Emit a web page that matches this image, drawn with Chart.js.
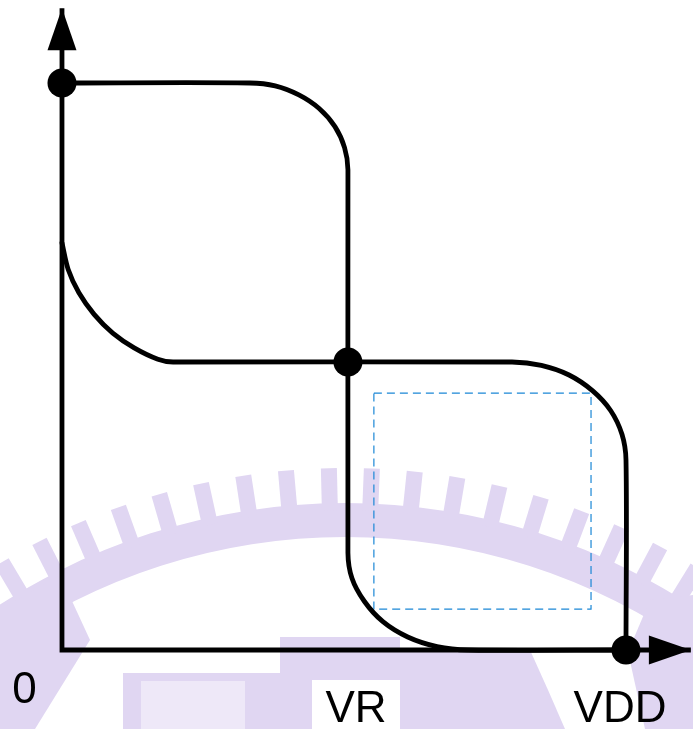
<!DOCTYPE html>
<html>
<head>
<meta charset="utf-8">
<script src="https://cdn.jsdelivr.net/npm/chart.js@4.4.1/dist/chart.umd.min.js"></script>
<style>
  html, body { margin: 0; padding: 0; background: #fff; }
  #wrap { width: 693px; height: 729px; }
</style>
</head>
<body>
<div id="wrap"><canvas id="chart" width="693" height="729"></canvas></div>
<script>
// Voltages, normalised so that VDD = 1
const VR = 0.507;
const VDD = 1.0;
const tickValues = [0, VR, VDD];
const tickLabels = ['0', 'VR', 'VDD'];

// Curve 1: high at 0, falls at VR down to the x axis
const curve1X = [0, 0.333, 0.378, 0.420, 0.456, 0.484, 0.501, 0.507, 0.507, 0.514, 0.536, 0.569, 0.613, 0.665, 0.720, 1.0];
const curve1Y = [1.0, 1.0, 0.995, 0.979, 0.955, 0.923, 0.886, 0.847, 0.171, 0.127, 0.086, 0.050, 0.023, 0.006, 0, 0];

// Curve 2: leaves the y axis, flat at VR, then falls at VDD
const curve2X = [0, 0.011, 0.030, 0.057, 0.090, 0.128, 0.170, 0.197, 0.798, 0.850, 0.899, 0.941, 0.973, 0.993, 1.0, 1.0];
const curve2Y = [0.718, 0.671, 0.630, 0.592, 0.559, 0.533, 0.513, 0.508, 0.508, 0.502, 0.485, 0.457, 0.422, 0.380, 0.335, 0];

// Crossing points
const dotX = [0, VR, VDD];
const dotY = [1.0, 0.508, 0];

// Dashed square inside the right lobe
const boxX = [0.553, 0.938, 0.938, 0.553, 0.553];
const boxY = [0.453, 0.453, 0.072, 0.072, 0.453];

// Axis lines (arrow tips are at the far ends)
const axisX = [0, 0, 1.115];
const axisY = [1.132, 0, 0];

function pts(xs, ys) {
    return xs.map((x, i) => ({ x: x, y: ys[i] }));
}

// Faint logo watermark behind the drawing
const watermark = {
    id: 'watermark',
    beforeDatasetsDraw(chart) {
        const ctx = chart.ctx;
        ctx.save();
        ctx.fillStyle = '#e0d6f2';
        const cx = 345, cy = 1140;
        const a0 = -Math.PI / 2 - 0.62, a1 = -Math.PI / 2 + 0.62;
        ctx.beginPath();
        ctx.arc(cx, cy, 637, a0, a1);
        ctx.arc(cx, cy, 603, a1, a0, true);
        ctx.closePath();
        ctx.fill();
        for (let a = -0.6; a <= 0.6; a += 0.064) {
            ctx.save();
            ctx.translate(cx, cy);
            ctx.rotate(a);
            ctx.fillRect(-8, -672, 16, 42);
            ctx.restore();
        }
        ctx.beginPath();
        ctx.moveTo(0, 610); ctx.lineTo(60, 575); ctx.lineTo(90, 640);
        ctx.lineTo(35, 729); ctx.lineTo(0, 729);
        ctx.fill();
        ctx.beginPath();
        ctx.moveTo(693, 595); ctx.lineTo(650, 600); ctx.lineTo(628, 652);
        ctx.lineTo(645, 729); ctx.lineTo(693, 729);
        ctx.fill();
        ctx.beginPath();
        ctx.moveTo(400, 650); ctx.lineTo(530, 650); ctx.lineTo(548, 690);
        ctx.lineTo(565, 729); ctx.lineTo(400, 729);
        ctx.fill();
        ctx.fillRect(280, 637, 120, 43);
        ctx.fillRect(280, 680, 32, 49);
        ctx.fillStyle = '#eee8f8';
        ctx.fillRect(123, 673, 157, 56);
        ctx.fillStyle = '#e0d6f2';
        ctx.fillRect(123, 673, 18, 56);
        ctx.fillRect(245, 673, 35, 56);
        ctx.fillRect(123, 673, 157, 8);
        ctx.restore();
    }
};

// Arrow heads and the voltage labels
const annotations = {
    id: 'annotations',
    afterDatasetsDraw(chart) {
        const ctx = chart.ctx;
        const xs = chart.scales.x, ys = chart.scales.y;
        const ox = xs.getPixelForValue(0), oy = ys.getPixelForValue(0);
        const len = 42, half = 14.5;
        ctx.save();
        ctx.fillStyle = '#000';
        // y arrow
        const ty = ys.getPixelForValue(axisY[0]);
        ctx.beginPath();
        ctx.moveTo(ox, ty);
        ctx.lineTo(ox - half, ty + len);
        ctx.lineTo(ox + half, ty + len);
        ctx.closePath();
        ctx.fill();
        // x arrow
        const tx = xs.getPixelForValue(axisX[2]);
        ctx.beginPath();
        ctx.moveTo(tx, oy);
        ctx.lineTo(tx - len, oy - half);
        ctx.lineTo(tx - len, oy + half);
        ctx.closePath();
        ctx.fill();

        ctx.font = '44px "Liberation Sans", Arial, sans-serif';
        ctx.textAlign = 'center';
        ctx.textBaseline = 'alphabetic';
        const offs = [[-37.5, 53], [8, 72], [-6, 72]];
        tickLabels.forEach((t, i) => {
            const px = xs.getPixelForValue(tickValues[i]);
            ctx.fillText(t, px + offs[i][0], oy + offs[i][1]);
        });
        ctx.restore();
    }
};

const lineStyle = {
    showLine: true,
    pointRadius: 0,
    tension: 0.3,
    fill: false,
    borderColor: '#000',
    borderWidth: 4.8,
    borderJoinStyle: 'round',
    borderCapStyle: 'round'
};

new Chart(document.getElementById('chart'), {
    type: 'scatter',
    data: {
        datasets: [
            { data: pts(dotX, dotY), pointRadius: 14.5, pointBackgroundColor: '#000', pointBorderWidth: 0, showLine: false, order: 0 },
            Object.assign({ data: pts(curve1X, curve1Y), order: 1 }, lineStyle),
            Object.assign({ data: pts(curve2X, curve2Y), order: 1 }, lineStyle),
            Object.assign({ data: pts(axisX, axisY), order: 2 }, lineStyle, { tension: 0, borderJoinStyle: 'miter', borderCapStyle: 'butt' }),
            { data: pts(boxX, boxY), showLine: true, pointRadius: 0, tension: 0, fill: false,
              borderColor: '#1b87d6', borderWidth: 1.2, borderDash: [8, 5], order: 3 }
        ]
    },
    options: {
        responsive: false,
        devicePixelRatio: 1,
        animation: false,
        layout: { padding: 0, autoPadding: false },
        plugins: { legend: { display: false }, tooltip: { enabled: false } },
        scales: {
            x: { display: false, min: -0.1099, max: 1.1188 },
            y: { display: false, min: -0.1393, max: 1.1464 }
        }
    },
    plugins: [watermark, annotations]
});
</script>
</body>
</html>
